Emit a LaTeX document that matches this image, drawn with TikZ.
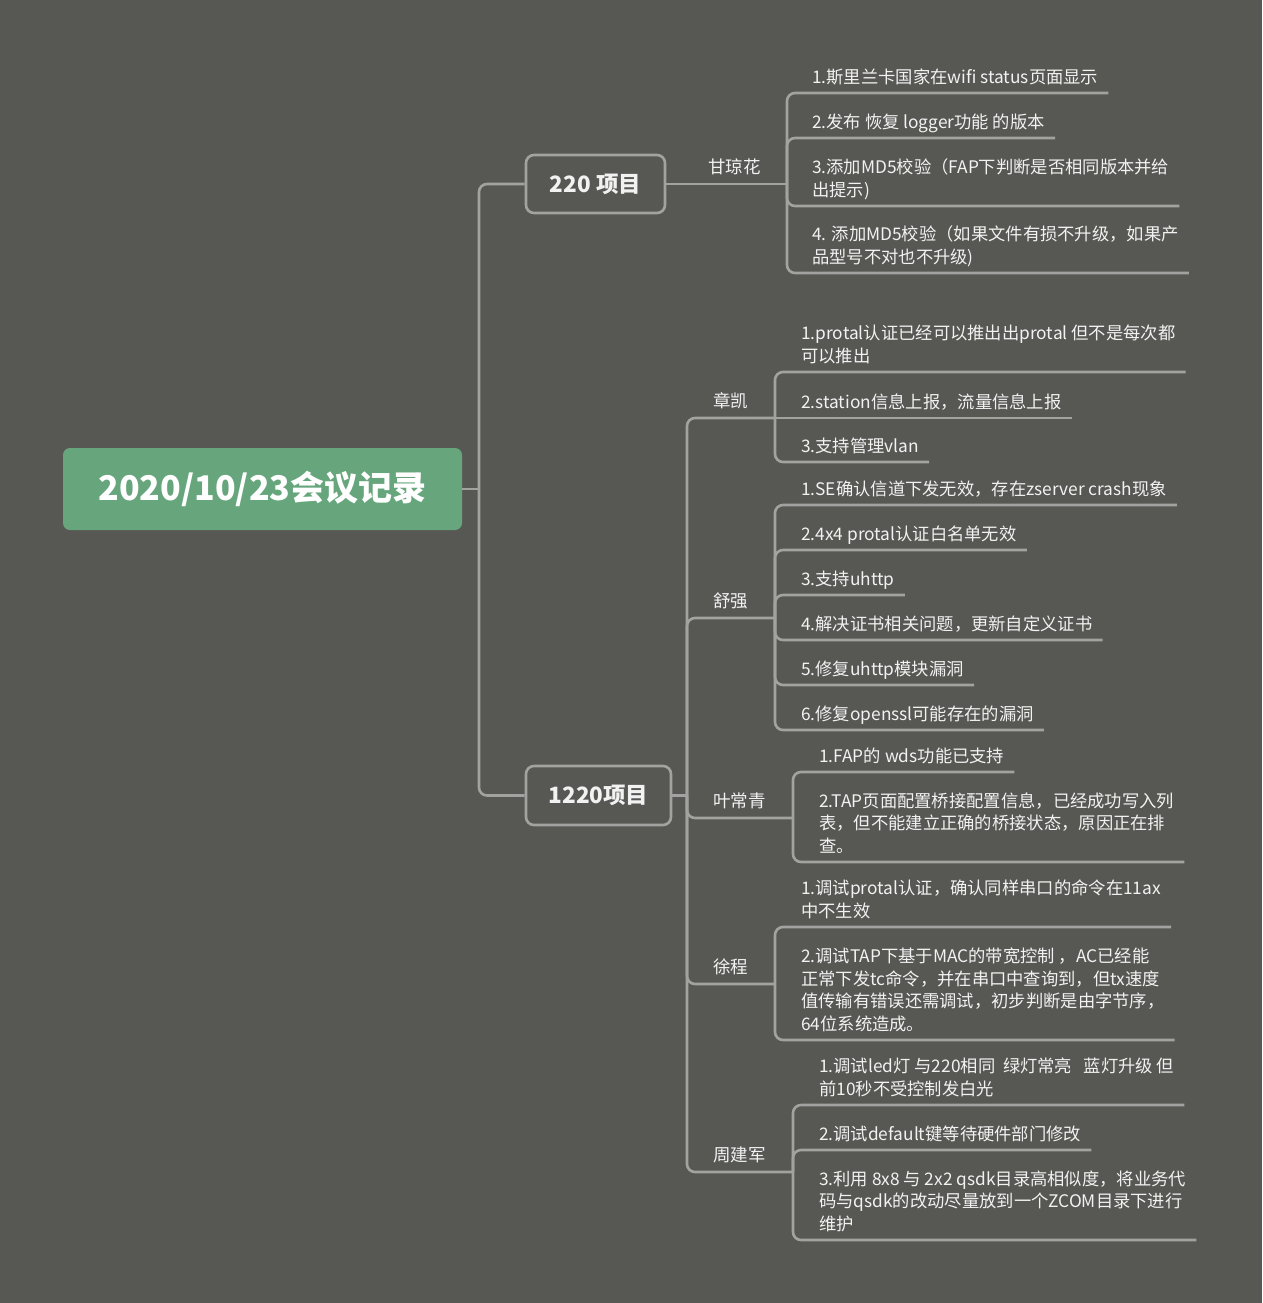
\documentclass[tikz,border=0pt]{standalone}
\usepackage{fontspec}
\setmainfont{Noto Sans CJK SC}
\setsansfont{Noto Sans CJK SC}
\definecolor{bgc}{HTML}{575854}
\definecolor{linec}{HTML}{A2A3A0}
\definecolor{txtc}{HTML}{F2F2F2}
\definecolor{rootc}{HTML}{67A67C}
\newcommand\tx[1]{\begin{tabular}[b]{@{}l@{}}#1\end{tabular}}
\tikzset{
  conn/.style={draw=linec, line width=2.6pt, rounded corners=8pt},
  leaf/.style={anchor=base west, inner sep=0pt, text=txtc, font=\fontsize{17.3}{22.6}\selectfont},
  who/.style={anchor=base west, inner sep=0pt, text=txtc, font=\fontsize{17.5}{21}\selectfont},
  proj/.style={draw=linec, line width=2.6pt, rounded corners=8pt, fill=bgc, text=txtc,
    font=\bfseries\fontsize{22.5}{26}\selectfont, inner sep=0pt},
  rootbox/.style={fill=rootc, rounded corners=7pt, text=white, inner sep=0pt,
    font=\bfseries\fontsize{34}{40}\selectfont, minimum width=399pt, minimum height=82pt}
}
\begin{document}
\begin{tikzpicture}[x=1pt,y=-1pt]
\useasboundingbox (0,0) rectangle (1262,1303);
\fill[bgc] (0,0) rectangle (1262,1303);

% root and projects
\node[rootbox] (root) at (262.5,489) {2020/10/23会议记录};
\node[proj, minimum width=139pt, minimum height=58pt] (p220) at (595.5,184) {220 项目};
\node[proj, minimum width=145pt, minimum height=59pt] (p1220) at (598.5,795.5) {1220项目};
\coordinate (jR) at (479,489);
\draw[conn] (root.east) -- (jR);
\draw[conn] (jR) |- (p220.west);
\draw[conn] (jR) |- (p1220.west);

% 220 project
\coordinate (jG) at (787,184);
\draw[conn] (p220.east) -- (jG);
\node[who] (nG) at (708,173) {甘琼花};
\node[leaf] (g1) at (812,83.5) {\tx{1.斯里兰卡国家在wifi status页面显示}};
\node[leaf] (g2) at (812,128.5) {\tx{2.发布 恢复 logger功能 的版本}};
\node[leaf] (g3) at (812,196.5) {\tx{3.添加MD5校验（FAP下判断是否相同版本并给\\出提示)}};
\node[leaf] (g4) at (812,263.5) {\tx{4. 添加MD5校验（如果文件有损不升级，如果产\\品型号不对也不升级)}};
\foreach \n in {g1,g2,g3,g4}
  \draw[conn] (jG) |- ([xshift=10pt,yshift=-9.5pt]\n.base east);

% 1220 project
\coordinate (j1220) at (687,795.5);
\draw[conn] (p1220.east) -- (j1220);

% 章凯
\coordinate (jZ) at (775,418);
\draw[conn] (j1220) |- (jZ);
\node[who] (nZ) at (713,407) {章凯};
\node[leaf] (z1) at (801,362.5) {\tx{1.protal认证已经可以推出出protal 但不是每次都\\可以推出}};
\node[leaf] (z2) at (801,408.5) {\tx{2.station信息上报，流量信息上报}};
\node[leaf] (z3) at (801,452.5) {\tx{3.支持管理vlan}};
\draw[conn] (jZ) |- ([xshift=10pt,yshift=-9.5pt]z1.base east);
\draw[conn] (jZ) -- ([xshift=10pt,yshift=-9.5pt]z2.base east);
\draw[conn] (jZ) |- ([xshift=10pt,yshift=-9.5pt]z3.base east);

% 舒强
\coordinate (jS) at (775,618);
\draw[conn] (j1220) |- (jS);
\node[who] (nS) at (713,607) {舒强};
\node[leaf] (s1) at (801,495.5) {\tx{1.SE确认信道下发无效，存在zserver crash现象}};
\node[leaf] (s2) at (801,540.5) {\tx{2.4x4 protal认证白名单无效}};
\node[leaf] (s3) at (801,585.5) {\tx{3.支持uhttp}};
\node[leaf] (s4) at (801,630.5) {\tx{4.解决证书相关问题，更新自定义证书}};
\node[leaf] (s5) at (801,675.5) {\tx{5.修复uhttp模块漏洞}};
\node[leaf] (s6) at (801,720.5) {\tx{6.修复openssl可能存在的漏洞}};
\foreach \n in {s1,s2,s3,s4,s5,s6}
  \draw[conn] (jS) |- ([xshift=10pt,yshift=-9.5pt]\n.base east);

% 叶常青
\coordinate (jY) at (793,818);
\draw[conn] (j1220) |- (jY);
\node[who] (nY) at (713,807) {叶常青};
\node[leaf] (y1) at (819,762.5) {\tx{1.FAP的 wds功能已支持}};
\node[leaf] (y2) at (819,852.5) {\tx{2.TAP页面配置桥接配置信息，已经成功写入列\\表，但不能建立正确的桥接状态，原因正在排\\查。}};
\foreach \n in {y1,y2}
  \draw[conn] (jY) |- ([xshift=10pt,yshift=-9.5pt]\n.base east);

% 徐程
\coordinate (jX) at (775,984);
\draw[conn] (j1220) |- (jX);
\node[who] (nX) at (713,973) {徐程};
\node[leaf] (x1) at (801,917.5) {\tx{1.调试protal认证，确认同样串口的命令在11ax\\中不生效}};
\node[leaf] (x2) at (801,1030.5) {\tx{2.调试TAP下基于MAC的带宽控制 ，AC已经能\\正常下发tc命令，并在串口中查询到，但tx速度\\值传输有错误还需调试，初步判断是由字节序，\\64位系统造成。}};
\foreach \n in {x1,x2}
  \draw[conn] (jX) |- ([xshift=10pt,yshift=-9.5pt]\n.base east);

% 周建军
\coordinate (jW) at (793,1172);
\draw[conn] (j1220) |- (jW);
\node[who] (nW) at (713,1161) {周建军};
\node[leaf] (w1) at (819,1095.5) {\tx{1.调试led灯 与220相同\ \ 绿灯常亮\ \ \ 蓝灯升级 但\\前10秒不受控制发白光}};
\node[leaf] (w2) at (819,1140.5) {\tx{2.调试default键等待硬件部门修改}};
\node[leaf] (w3) at (819,1230.5) {\tx{3.利用 8x8 与 2x2 qsdk目录高相似度，将业务代\\码与qsdk的改动尽量放到一个ZCOM目录下进行\\维护}};
\foreach \n in {w1,w2,w3}
  \draw[conn] (jW) |- ([xshift=10pt,yshift=-9.5pt]\n.base east);
\end{tikzpicture}
\end{document}
